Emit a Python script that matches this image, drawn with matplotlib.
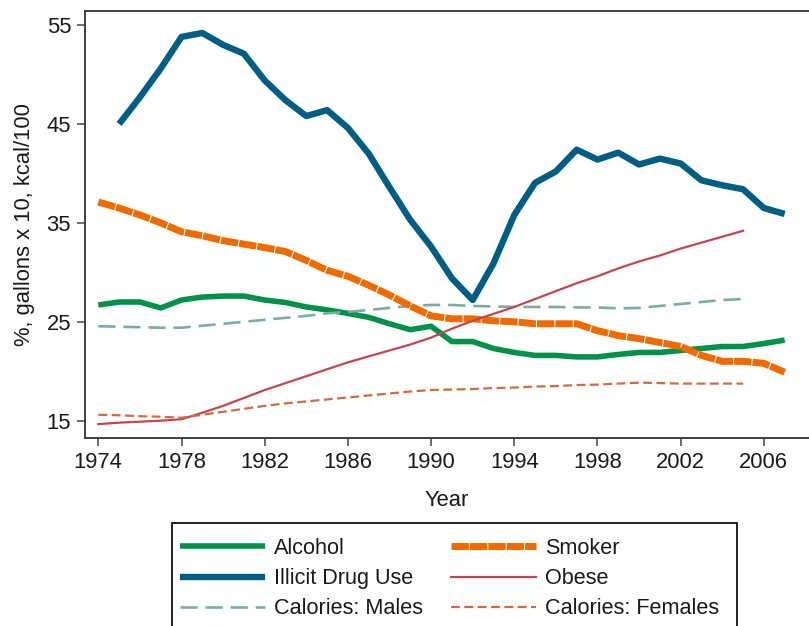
import matplotlib
matplotlib.use("Agg")
import matplotlib.pyplot as plt
from matplotlib.patches import Rectangle

plt.rcParams["font.family"] = ["Liberation Sans", "DejaVu Sans"]

years_all = list(range(1974, 2008))
years_drug = list(range(1975, 2008))
years_cal = list(range(1974, 2006))

alcohol = [26.7, 27.0, 27.0, 26.4, 27.2, 27.5, 27.6, 27.6, 27.2, 26.95,
           26.5, 26.2, 25.85, 25.45, 24.8, 24.2, 24.55, 23.0, 23.0, 22.3,
           21.9, 21.6, 21.6, 21.45, 21.45, 21.7, 21.9, 21.9, 22.1, 22.3,
           22.5, 22.5, 22.8, 23.15]

smoker = [37.1, 36.5, 35.8, 35.0, 34.1, 33.7, 33.2, 32.85, 32.5, 32.1,
          31.2, 30.2, 29.6, 28.7, 27.7, 26.6, 25.6, 25.3, 25.3, 25.1,
          25.0, 24.8, 24.8, 24.8, 24.1, 23.6, 23.3, 22.9, 22.5, 21.6,
          21.0, 21.0, 20.8, 19.9]

drug = [45.0, 47.7, 50.6, 53.8, 54.2, 53.0, 52.1, 49.4, 47.4, 45.8,
        46.4, 44.6, 42.0, 38.6, 35.3, 32.6, 29.4, 27.2, 30.9, 35.8,
        39.05, 40.2, 42.4, 41.4, 42.1, 40.9, 41.5, 41.0, 39.3, 38.8,
        38.4, 36.5, 35.9]

obese = [14.65, 14.8, 14.9, 15.0, 15.15, 15.8, 16.5, 17.3, 18.1, 18.8,
         19.5, 20.2, 20.9, 21.5, 22.1, 22.7, 23.4, 24.3, 25.1, 25.8,
         26.5, 27.3, 28.1, 28.9, 29.6, 30.4, 31.1, 31.7, 32.4, 33.0,
         33.6, 34.2]

cal_males = [24.55, 24.5, 24.45, 24.4, 24.4, 24.6, 24.8, 25.0, 25.2, 25.4,
             25.6, 25.85, 26.0, 26.2, 26.4, 26.6, 26.7, 26.7, 26.6, 26.55,
             26.5, 26.5, 26.5, 26.45, 26.45, 26.35, 26.4, 26.6, 26.8, 27.0,
             27.2, 27.3]

cal_females = [15.6, 15.55, 15.45, 15.4, 15.3, 15.6, 15.9, 16.2, 16.5, 16.75,
               16.95, 17.15, 17.35, 17.55, 17.75, 17.95, 18.1, 18.15, 18.2, 18.3,
               18.35, 18.45, 18.5, 18.6, 18.65, 18.75, 18.85, 18.8, 18.75, 18.75,
               18.75, 18.75]

x_ticks = [1974, 1978, 1982, 1986, 1990, 1994, 1998, 2002, 2006]
y_ticks = [15, 25, 35, 45, 55]

W, H = 809, 626
fig = plt.figure(figsize=(W / 100, H / 100), dpi=100)
ax = fig.add_axes([85 / W, 1 - 438.3 / H, 1 - 85 / W, (438.3 - 10.7) / H])

c_alc = "#00914A"
c_smk = "#F06A00"
c_drug = "#005E84"
c_obese = "#C4454F"
c_male = "#7AAEA0"
c_fem = "#D06A40"

ax.plot(years_all, alcohol, color=c_alc, lw=4.0, solid_capstyle="butt",
        solid_joinstyle="round", label="Alcohol")
ax.plot(years_drug, drug, color=c_drug, lw=4.6, solid_capstyle="butt",
        solid_joinstyle="round", label="Illicit Drug Use")
ax.plot(years_cal, cal_males, color=c_male, lw=1.9, linestyle=(0, (6.5, 3)),
        label="Calories: Males")
ax.plot(years_all, smoker, color=c_smk, lw=5.0, linestyle=(0, (2.5, 0.15)),
        dash_capstyle="butt", dash_joinstyle="round", label="Smoker")
ax.plot(years_cal, obese, color=c_obese, lw=1.6, label="Obese")
ax.plot(years_cal, cal_females, color=c_fem, lw=1.6, linestyle=(0, (4, 2)),
        label="Calories: Females")

ax.set_xlim(1973.36, 2008.17)
ax.set_ylim(13.22, 56.45)
ax.set_xticks(x_ticks)
ax.set_yticks(y_ticks)

spine_c = "#333333"
for side in ["left", "bottom", "top"]:
    ax.spines[side].set_color(spine_c)
    ax.spines[side].set_linewidth(1.3)
ax.spines["right"].set_visible(False)
ax.tick_params(axis="both", direction="out", length=6, width=1.1,
               color="#444444", labelsize=15.8, labelcolor="#1a1a1a", pad=4)
ax.set_xlabel("Year", fontsize=15.8, color="#1a1a1a", labelpad=12)
ax.set_ylabel("%, gallons x 10, kcal/100", fontsize=15.8, color="#1a1a1a",
              labelpad=8)

# legend box runs past the bottom edge of the figure
fig.patches.append(Rectangle((171.7 / W, -0.05), (737 - 171.7) / W,
                             (H - 523.3) / H + 0.05, transform=fig.transFigure,
                             fill=False, edgecolor="#111111", linewidth=1.3))

handles, labels = ax.get_legend_handles_labels()
order = ["Alcohol", "Illicit Drug Use", "Calories: Males",
         "Smoker", "Obese", "Calories: Females"]
hmap = dict(zip(labels, handles))
leg = fig.legend([hmap[k] for k in order], order, ncol=2,
                 loc="upper left", bbox_to_anchor=(180 / W, 1 - 538 / H),
                 fontsize=15.6, frameon=False,
                 handlelength=3.9, handletextpad=0.45, columnspacing=1.29,
                 labelspacing=0.42, borderpad=0, borderaxespad=0)
for t in leg.get_texts():
    t.set_color("#1a1a1a")

fig.savefig("out.png", dpi=100, facecolor="white")
